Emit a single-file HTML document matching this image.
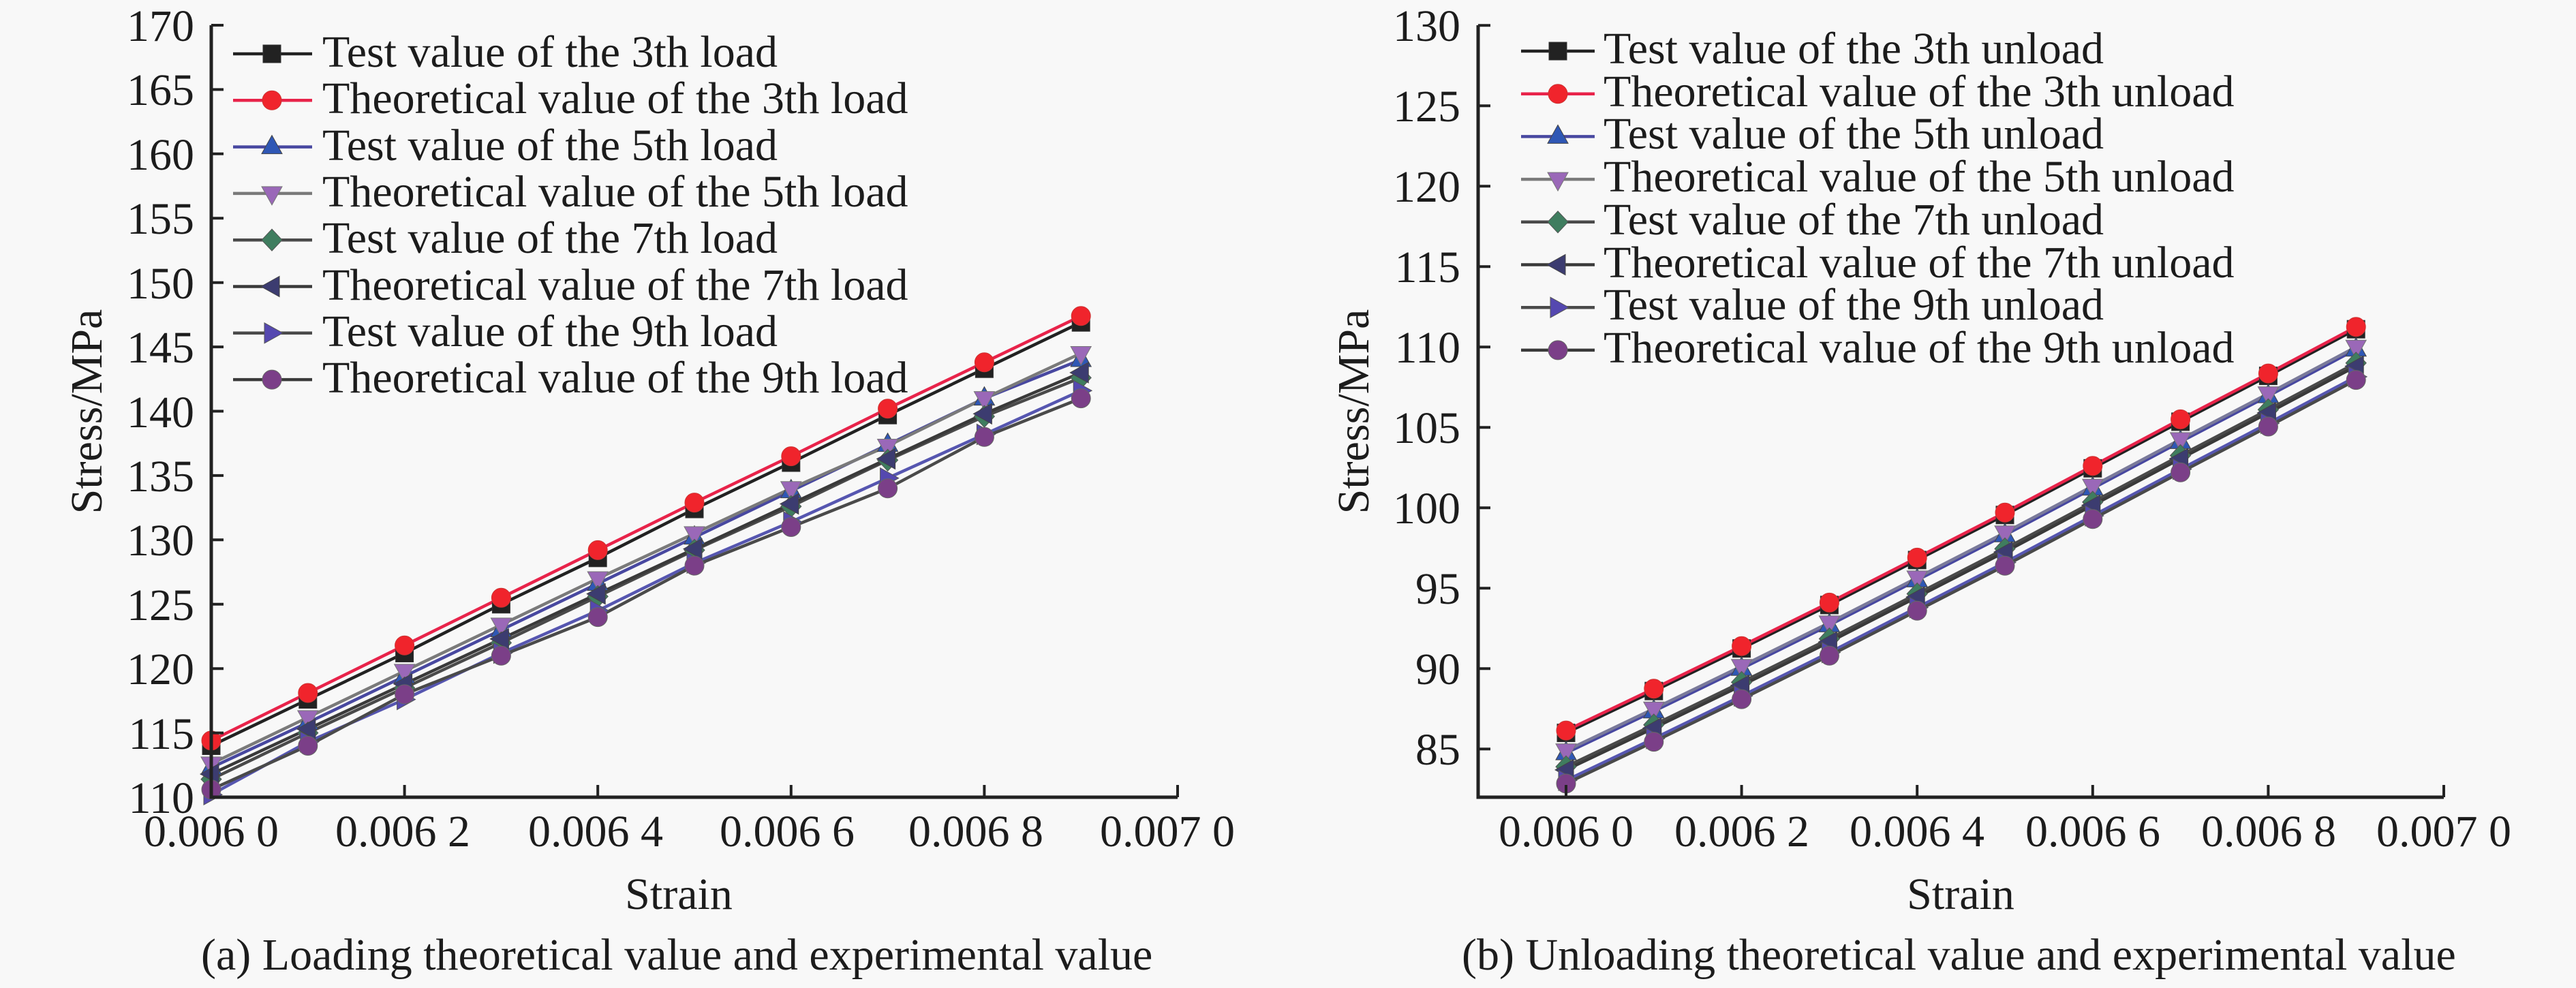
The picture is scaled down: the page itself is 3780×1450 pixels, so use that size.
<!DOCTYPE html>
<html>
<head>
<meta charset="utf-8">
<style>
html,body{margin:0;padding:0;background:#f8f8f8;}
svg{display:block;}
svg text{font-family:"Liberation Serif","Times New Roman",serif;font-size:66px;fill:#1c1c1c;}
</style>
</head>
<body>
<svg width="3780" height="1450" viewBox="0 0 3780 1450" xmlns="http://www.w3.org/2000/svg" font-family="Liberation Serif, Times New Roman, serif" font-size="66">
<defs>
<g id="sq"><rect x="-13" y="-13" width="26" height="26" fill="#222" stroke="#333" stroke-width="1"/></g>
<g id="cr"><circle r="14" fill="#f0242c" stroke="#c33" stroke-width="1"/></g>
<g id="tu"><polygon points="0,-17 15,10 -15,10" fill="#2f57b5" stroke="#444" stroke-width="1"/></g>
<g id="td"><polygon points="-15,-10 15,-10 0,17" fill="#9a68b8" stroke="#777" stroke-width="1"/></g>
<g id="di"><polygon points="0,-16 15,0 0,16 -15,0" fill="#3f7d5f" stroke="#555" stroke-width="1"/></g>
<g id="tl"><polygon points="-16,0 11,-15 11,15" fill="#3c3c70" stroke="#444" stroke-width="1"/></g>
<g id="tr"><polygon points="16,0 -11,-15 -11,15" fill="#5548b0" stroke="#555" stroke-width="1"/></g>
<g id="cp"><circle r="14" fill="#7b3f88" stroke="#666" stroke-width="1"/></g>
</defs>

<rect x="0" y="0" width="3780" height="1450" fill="#f8f8f8"/>

<!-- ===================== LEFT CHART ===================== -->
<g fill="none" stroke-linejoin="round" stroke-width="4.5">
<polyline stroke="#222" points="310,1094.5 451.8,1026.5 593.6,958.5 735.4,886.8 877.2,818.8 1019,747 1160.8,679 1302.6,609.2 1444.4,541.2 1586.2,473.2"/>
<polyline stroke="#e8234a" points="310,1086.9 451.8,1017 593.6,947.2 735.4,877.3 877.2,807.4 1019,737.6 1160.8,669.6 1302.6,599.7 1444.4,531.8 1586.2,463.8"/>
<polyline stroke="#4848a0" points="310,1126.6 451.8,1060.5 593.6,992.5 735.4,924.5 877.2,856.5 1019,788.6 1160.8,720.6 1302.6,652.6 1444.4,584.6 1586.2,528"/>
<polyline stroke="#7a7a7a" points="310,1120.9 451.8,1052.9 593.6,984.9 735.4,917 877.2,849 1019,782.9 1160.8,716.8 1302.6,654.5 1444.4,584.6 1586.2,518.5"/>
<polyline stroke="#4a4a4a" points="310,1143.6 451.8,1075.6 593.6,1009.5 735.4,943.4 877.2,875.4 1019,807.4 1160.8,743.2 1302.6,675.3 1444.4,611.1 1586.2,554.4"/>
<polyline stroke="#3a3a3a" points="310,1136 451.8,1069.9 593.6,1003.8 735.4,937.7 877.2,871.6 1019,805.6 1160.8,739.5 1302.6,673.4 1444.4,607.3 1586.2,546.9"/>
<polyline stroke="#5656b0" points="310,1166.2 451.8,1088.8 593.6,1026.5 735.4,958.5 877.2,896.2 1019,826.3 1160.8,765.9 1302.6,701.7 1444.4,637.5 1586.2,573.3"/>
<polyline stroke="#4a4a4a" points="310,1158.7 451.8,1094.5 593.6,1018.9 735.4,962.3 877.2,905.6 1019,830.1 1160.8,773.5 1302.6,716.8 1444.4,641.3 1586.2,584.6"/>
</g>
<g>
<use href="#sq" x="310" y="1094.5"/><use href="#sq" x="451.8" y="1026.5"/><use href="#sq" x="593.6" y="958.5"/><use href="#sq" x="735.4" y="886.8"/><use href="#sq" x="877.2" y="818.8"/><use href="#sq" x="1019" y="747"/><use href="#sq" x="1160.8" y="679"/><use href="#sq" x="1302.6" y="609.2"/><use href="#sq" x="1444.4" y="541.2"/><use href="#sq" x="1586.2" y="473.2"/>
<use href="#cr" x="310" y="1086.9"/><use href="#cr" x="451.8" y="1017"/><use href="#cr" x="593.6" y="947.2"/><use href="#cr" x="735.4" y="877.3"/><use href="#cr" x="877.2" y="807.4"/><use href="#cr" x="1019" y="737.6"/><use href="#cr" x="1160.8" y="669.6"/><use href="#cr" x="1302.6" y="599.7"/><use href="#cr" x="1444.4" y="531.8"/><use href="#cr" x="1586.2" y="463.8"/>
<use href="#tu" x="310" y="1126.6"/><use href="#tu" x="451.8" y="1060.5"/><use href="#tu" x="593.6" y="992.5"/><use href="#tu" x="735.4" y="924.5"/><use href="#tu" x="877.2" y="856.5"/><use href="#tu" x="1019" y="788.6"/><use href="#tu" x="1160.8" y="720.6"/><use href="#tu" x="1302.6" y="652.6"/><use href="#tu" x="1444.4" y="584.6"/><use href="#tu" x="1586.2" y="528"/>
<use href="#td" x="310" y="1120.9"/><use href="#td" x="451.8" y="1052.9"/><use href="#td" x="593.6" y="984.9"/><use href="#td" x="735.4" y="917"/><use href="#td" x="877.2" y="849"/><use href="#td" x="1019" y="782.9"/><use href="#td" x="1160.8" y="716.8"/><use href="#td" x="1302.6" y="654.5"/><use href="#td" x="1444.4" y="584.6"/><use href="#td" x="1586.2" y="518.5"/>
<use href="#di" x="310" y="1143.6"/><use href="#di" x="451.8" y="1075.6"/><use href="#di" x="593.6" y="1009.5"/><use href="#di" x="735.4" y="943.4"/><use href="#di" x="877.2" y="875.4"/><use href="#di" x="1019" y="807.4"/><use href="#di" x="1160.8" y="743.2"/><use href="#di" x="1302.6" y="675.3"/><use href="#di" x="1444.4" y="611.1"/><use href="#di" x="1586.2" y="554.4"/>
<use href="#tl" x="310" y="1136"/><use href="#tl" x="451.8" y="1069.9"/><use href="#tl" x="593.6" y="1003.8"/><use href="#tl" x="735.4" y="937.7"/><use href="#tl" x="877.2" y="871.6"/><use href="#tl" x="1019" y="805.6"/><use href="#tl" x="1160.8" y="739.5"/><use href="#tl" x="1302.6" y="673.4"/><use href="#tl" x="1444.4" y="607.3"/><use href="#tl" x="1586.2" y="546.9"/>
<use href="#tr" x="310" y="1166.2"/><use href="#tr" x="451.8" y="1088.8"/><use href="#tr" x="593.6" y="1026.5"/><use href="#tr" x="735.4" y="958.5"/><use href="#tr" x="877.2" y="896.2"/><use href="#tr" x="1019" y="826.3"/><use href="#tr" x="1160.8" y="765.9"/><use href="#tr" x="1302.6" y="701.7"/><use href="#tr" x="1444.4" y="637.5"/><use href="#tr" x="1586.2" y="573.3"/>
<use href="#cp" x="310" y="1158.7"/><use href="#cp" x="451.8" y="1094.5"/><use href="#cp" x="593.6" y="1018.9"/><use href="#cp" x="735.4" y="962.3"/><use href="#cp" x="877.2" y="905.6"/><use href="#cp" x="1019" y="830.1"/><use href="#cp" x="1160.8" y="773.5"/><use href="#cp" x="1302.6" y="716.8"/><use href="#cp" x="1444.4" y="641.3"/><use href="#cp" x="1586.2" y="584.6"/>
</g>

<!-- left axes -->
<g stroke="#222" stroke-width="5" fill="none">
<path d="M310,37 V1170 H1728"/>
<path stroke-width="4" d="M310,37 h18 M310,131.4 h18 M310,225.8 h18 M310,320.3 h18 M310,414.7 h18 M310,509.1 h18 M310,603.5 h18 M310,697.9 h18 M310,792.3 h18 M310,886.8 h18 M310,981.2 h18 M310,1075.6 h18"/>
<path stroke-width="4" d="M593.6,1170 v-18 M877.2,1170 v-18 M1160.8,1170 v-18 M1444.4,1170 v-18 M1728,1170 v-18"/>
</g>
<g text-anchor="end">
<text x="285" y="60">170</text><text x="285" y="154">165</text><text x="285" y="249">160</text><text x="285" y="343">155</text><text x="285" y="438">150</text><text x="285" y="532">145</text><text x="285" y="627">140</text><text x="285" y="721">135</text><text x="285" y="815">130</text><text x="285" y="910">125</text><text x="285" y="1004">120</text><text x="285" y="1099">115</text><text x="285" y="1193">110</text>
</g>
<g text-anchor="middle">
<text x="310" y="1242">0.006 0</text><text x="591" y="1242">0.006 2</text><text x="874" y="1242">0.006 4</text><text x="1155" y="1242">0.006 6</text><text x="1432" y="1242">0.006 8</text><text x="1713" y="1242">0.007 0</text>
<text x="996" y="1334">Strain</text>
<text transform="translate(149,604) rotate(-90)">Stress/MPa</text>
</g>
<text x="295" y="1423">(a) Loading theoretical value and experimental value</text>

<!-- left legend -->
<g stroke-width="4.5">
<line x1="342" y1="79" x2="458" y2="79" stroke="#222"/>
<line x1="342" y1="147.3" x2="458" y2="147.3" stroke="#e8234a"/>
<line x1="342" y1="215.6" x2="458" y2="215.6" stroke="#4848a0"/>
<line x1="342" y1="283.9" x2="458" y2="283.9" stroke="#7a7a7a"/>
<line x1="342" y1="352.2" x2="458" y2="352.2" stroke="#4a4a4a"/>
<line x1="342" y1="420.5" x2="458" y2="420.5" stroke="#3a3a3a"/>
<line x1="342" y1="488.8" x2="458" y2="488.8" stroke="#4a4a4a"/>
<line x1="342" y1="557.1" x2="458" y2="557.1" stroke="#3a3a3a"/>
</g>
<use href="#sq" x="399" y="79"/><use href="#cr" x="399" y="147.3"/><use href="#tu" x="399" y="215.6"/><use href="#td" x="399" y="283.9"/><use href="#di" x="399" y="352.2"/><use href="#tl" x="399" y="420.5"/><use href="#tr" x="399" y="488.8"/><use href="#cp" x="399" y="557.1"/>
<text x="473" y="98">Test value of the 3th load</text>
<text x="473" y="166">Theoretical value of the 3th load</text>
<text x="473" y="235">Test value of the 5th load</text>
<text x="473" y="303">Theoretical value of the 5th load</text>
<text x="473" y="371">Test value of the 7th load</text>
<text x="473" y="440">Theoretical value of the 7th load</text>
<text x="473" y="508">Test value of the 9th load</text>
<text x="473" y="576">Theoretical value of the 9th load</text>

<!-- ===================== RIGHT CHART ===================== -->
<g fill="none" stroke-linejoin="round" stroke-width="4.5">
<polyline stroke="#222" points="2298,1075.6 2426.8,1014.2 2555.6,951.7 2684.4,887.9 2813.2,821.9 2942,755.8 3070.8,687.3 3199.6,618.9 3328.4,551.6 3457.2,483.2"/>
<polyline stroke="#e8234a" points="2298,1072.1 2426.8,1010.7 2555.6,948.2 2684.4,884.4 2813.2,818.4 2942,752.3 3070.8,683.8 3199.6,615.4 3328.4,548.1 3457.2,479.7"/>
<polyline stroke="#4848a0" points="2298,1105.1 2426.8,1043.7 2555.6,981.2 2684.4,917.4 2813.2,851.4 2942,785.3 3070.8,716.8 3199.6,648.4 3328.4,581.1 3457.2,512.7"/>
<polyline stroke="#7a7a9a" points="2298,1101.6 2426.8,1040.2 2555.6,977.7 2684.4,913.9 2813.2,847.9 2942,781.8 3070.8,713.3 3199.6,644.9 3328.4,577.6 3457.2,509.2"/>
<polyline stroke="#4a4a4a" points="2298,1125.2 2426.8,1063.8 2555.6,1001.3 2684.4,937.5 2813.2,871.5 2942,805.4 3070.8,736.9 3199.6,668.5 3328.4,601.2 3457.2,532.8"/>
<polyline stroke="#3a3a3a" points="2298,1129.9 2426.8,1068.5 2555.6,1006 2684.4,942.2 2813.2,876.2 2942,810.1 3070.8,741.6 3199.6,673.2 3328.4,605.9 3457.2,537.5"/>
<polyline stroke="#5656b0" points="2298,1145.3 2426.8,1083.9 2555.6,1021.4 2684.4,957.6 2813.2,891.6 2942,825.5 3070.8,757 3199.6,688.6 3328.4,621.3 3457.2,552.9"/>
<polyline stroke="#4a4a4a" points="2298,1150 2426.8,1088.6 2555.6,1026.1 2684.4,962.3 2813.2,896.3 2942,830.2 3070.8,761.7 3199.6,693.3 3328.4,626 3457.2,557.6"/>
</g>
<g>
<use href="#sq" x="2298" y="1075.6"/><use href="#sq" x="2426.8" y="1014.2"/><use href="#sq" x="2555.6" y="951.7"/><use href="#sq" x="2684.4" y="887.9"/><use href="#sq" x="2813.2" y="821.9"/><use href="#sq" x="2942" y="755.8"/><use href="#sq" x="3070.8" y="687.3"/><use href="#sq" x="3199.6" y="618.9"/><use href="#sq" x="3328.4" y="551.6"/><use href="#sq" x="3457.2" y="483.2"/>
<use href="#cr" x="2298" y="1072.1"/><use href="#cr" x="2426.8" y="1010.7"/><use href="#cr" x="2555.6" y="948.2"/><use href="#cr" x="2684.4" y="884.4"/><use href="#cr" x="2813.2" y="818.4"/><use href="#cr" x="2942" y="752.3"/><use href="#cr" x="3070.8" y="683.8"/><use href="#cr" x="3199.6" y="615.4"/><use href="#cr" x="3328.4" y="548.1"/><use href="#cr" x="3457.2" y="479.7"/>
<use href="#tu" x="2298" y="1105.1"/><use href="#tu" x="2426.8" y="1043.7"/><use href="#tu" x="2555.6" y="981.2"/><use href="#tu" x="2684.4" y="917.4"/><use href="#tu" x="2813.2" y="851.4"/><use href="#tu" x="2942" y="785.3"/><use href="#tu" x="3070.8" y="716.8"/><use href="#tu" x="3199.6" y="648.4"/><use href="#tu" x="3328.4" y="581.1"/><use href="#tu" x="3457.2" y="512.7"/>
<use href="#td" x="2298" y="1101.6"/><use href="#td" x="2426.8" y="1040.2"/><use href="#td" x="2555.6" y="977.7"/><use href="#td" x="2684.4" y="913.9"/><use href="#td" x="2813.2" y="847.9"/><use href="#td" x="2942" y="781.8"/><use href="#td" x="3070.8" y="713.3"/><use href="#td" x="3199.6" y="644.9"/><use href="#td" x="3328.4" y="577.6"/><use href="#td" x="3457.2" y="509.2"/>
<use href="#di" x="2298" y="1125.2"/><use href="#di" x="2426.8" y="1063.8"/><use href="#di" x="2555.6" y="1001.3"/><use href="#di" x="2684.4" y="937.5"/><use href="#di" x="2813.2" y="871.5"/><use href="#di" x="2942" y="805.4"/><use href="#di" x="3070.8" y="736.9"/><use href="#di" x="3199.6" y="668.5"/><use href="#di" x="3328.4" y="601.2"/><use href="#di" x="3457.2" y="532.8"/>
<use href="#tl" x="2298" y="1129.9"/><use href="#tl" x="2426.8" y="1068.5"/><use href="#tl" x="2555.6" y="1006"/><use href="#tl" x="2684.4" y="942.2"/><use href="#tl" x="2813.2" y="876.2"/><use href="#tl" x="2942" y="810.1"/><use href="#tl" x="3070.8" y="741.6"/><use href="#tl" x="3199.6" y="673.2"/><use href="#tl" x="3328.4" y="605.9"/><use href="#tl" x="3457.2" y="537.5"/>
<use href="#tr" x="2298" y="1145.3"/><use href="#tr" x="2426.8" y="1083.9"/><use href="#tr" x="2555.6" y="1021.4"/><use href="#tr" x="2684.4" y="957.6"/><use href="#tr" x="2813.2" y="891.6"/><use href="#tr" x="2942" y="825.5"/><use href="#tr" x="3070.8" y="757"/><use href="#tr" x="3199.6" y="688.6"/><use href="#tr" x="3328.4" y="621.3"/><use href="#tr" x="3457.2" y="552.9"/>
<use href="#cp" x="2298" y="1150"/><use href="#cp" x="2426.8" y="1088.6"/><use href="#cp" x="2555.6" y="1026.1"/><use href="#cp" x="2684.4" y="962.3"/><use href="#cp" x="2813.2" y="896.3"/><use href="#cp" x="2942" y="830.2"/><use href="#cp" x="3070.8" y="761.7"/><use href="#cp" x="3199.6" y="693.3"/><use href="#cp" x="3328.4" y="626"/><use href="#cp" x="3457.2" y="557.6"/>
</g>

<!-- right axes -->
<g stroke="#222" stroke-width="5" fill="none">
<path d="M2169,37 V1170 H3586"/>
<path stroke-width="4" d="M2169,37.2 h18 M2169,155.2 h18 M2169,273.2 h18 M2169,391.2 h18 M2169,509.2 h18 M2169,627.2 h18 M2169,745.2 h18 M2169,863.2 h18 M2169,981.2 h18 M2169,1099.2 h18"/>
<path stroke-width="4" d="M2298,1170 v-18 M2555.6,1170 v-18 M2813.2,1170 v-18 M3070.8,1170 v-18 M3328.4,1170 v-18 M3586,1170 v-18"/>
</g>
<g text-anchor="end">
<text x="2143" y="60">130</text><text x="2143" y="178">125</text><text x="2143" y="296">120</text><text x="2143" y="414">115</text><text x="2143" y="532">110</text><text x="2143" y="650">105</text><text x="2143" y="768">100</text><text x="2143" y="886">95</text><text x="2143" y="1004">90</text><text x="2143" y="1122">85</text>
</g>
<g text-anchor="middle">
<text x="2298" y="1242">0.006 0</text><text x="2556" y="1242">0.006 2</text><text x="2813" y="1242">0.006 4</text><text x="3071" y="1242">0.006 6</text><text x="3329" y="1242">0.006 8</text><text x="3586" y="1242">0.007 0</text>
<text x="2877" y="1334">Strain</text>
<text transform="translate(2008,604) rotate(-90)">Stress/MPa</text>
</g>
<text x="2145" y="1423">(b) Unloading theoretical value and experimental value</text>

<!-- right legend -->
<g stroke-width="4.5">
<line x1="2232" y1="75" x2="2340" y2="75" stroke="#222"/>
<line x1="2232" y1="137.7" x2="2340" y2="137.7" stroke="#e8234a"/>
<line x1="2232" y1="200.4" x2="2340" y2="200.4" stroke="#4848a0"/>
<line x1="2232" y1="263.1" x2="2340" y2="263.1" stroke="#7a7a7a"/>
<line x1="2232" y1="325.8" x2="2340" y2="325.8" stroke="#4a4a4a"/>
<line x1="2232" y1="388.5" x2="2340" y2="388.5" stroke="#3a3a3a"/>
<line x1="2232" y1="451.2" x2="2340" y2="451.2" stroke="#4a4a4a"/>
<line x1="2232" y1="513.9" x2="2340" y2="513.9" stroke="#3a3a3a"/>
</g>
<use href="#sq" x="2286" y="75"/><use href="#cr" x="2286" y="137.7"/><use href="#tu" x="2286" y="200.4"/><use href="#td" x="2286" y="263.1"/><use href="#di" x="2286" y="325.8"/><use href="#tl" x="2286" y="388.5"/><use href="#tr" x="2286" y="451.2"/><use href="#cp" x="2286" y="513.9"/>
<text x="2353" y="93">Test value of the 3th unload</text>
<text x="2353" y="156">Theoretical value of the 3th unload</text>
<text x="2353" y="218">Test value of the 5th unload</text>
<text x="2353" y="281">Theoretical value of the 5th unload</text>
<text x="2353" y="344">Test value of the 7th unload</text>
<text x="2353" y="407">Theoretical value of the 7th unload</text>
<text x="2353" y="469">Test value of the 9th unload</text>
<text x="2353" y="532">Theoretical value of the 9th unload</text>
</svg>
</body>
</html>
